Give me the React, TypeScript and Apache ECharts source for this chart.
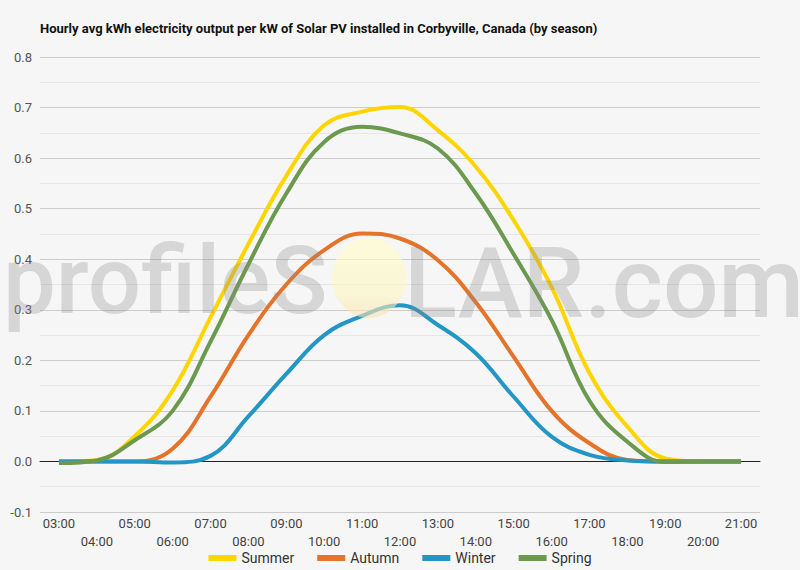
import React, { useEffect, useRef } from "react";
import * as echarts from "echarts";

const hours = ["03:00","04:00","05:00","06:00","07:00","08:00","09:00","10:00","11:00","12:00","13:00","14:00","15:00","16:00","17:00","18:00","19:00","20:00","21:00"];
const summer = [0, 0.003, 0.05, 0.14, 0.285, 0.43, 0.565, 0.665, 0.692, 0.701, 0.655, 0.583, 0.477, 0.345, 0.175, 0.069, 0.006, 0, 0];
const autumn = [0, 0, 0.0, 0.025, 0.128, 0.25, 0.35, 0.418, 0.451, 0.441, 0.398, 0.315, 0.207, 0.1, 0.036, 0.003, 0, 0, 0];
const winter = [0, 0, 0, -0.002, 0.011, 0.089, 0.173, 0.25, 0.288, 0.309, 0.27, 0.214, 0.128, 0.049, 0.013, 0.002, 0, 0, 0];
const spring = [-0.003, 0.002, 0.042, 0.1, 0.237, 0.39, 0.53, 0.632, 0.662, 0.649, 0.619, 0.53, 0.41, 0.28, 0.12, 0.039, -0.001, 0, 0];
const seriesNames = ["Summer", "Autumn", "Winter", "Spring"];
const seriesColors = ["#FFD500", "#E5732A", "#2496C6", "#6B9A4E"];
const title = "Hourly avg kWh electricity output per kW of Solar PV installed in Corbyville, Canada (by season)";

export default function App() {
  const ref = useRef<HTMLDivElement>(null);
  useEffect(() => {
    if (!ref.current) return;
    const chart = echarts.init(ref.current, null, { renderer: "svg" });
    const data = [summer, autumn, winter, spring];
    chart.setOption({
      animation: false,
      backgroundColor: "#f6f6f6",
      textStyle: { fontFamily: "Roboto" },
      title: {
        text: title,
        left: 35,
        top: 17,
        textStyle: { fontSize: 13, fontWeight: "bold", color: "#111", fontFamily: "Roboto" },
      },
      grid: { left: 40, right: 40, top: 57, bottom: 58, containLabel: false },
      legend: {
        top: 549,
        left: "center",
        icon: "rect",
        itemWidth: 28,
        itemHeight: 6,
        itemGap: 23,
        padding: [2, 5],
        textStyle: { fontSize: 14, color: "#333", fontFamily: "Roboto" },
        data: seriesNames,
      },
      xAxis: {
        type: "category",
        data: hours,
        boundaryGap: true,
        axisLine: { show: true, onZero: true, lineStyle: { color: "#222", width: 1 } },
        axisTick: { show: false },
        axisLabel: {
          interval: 0,
          fontSize: 13,
          color: "#444",
          lineHeight: 18,
          margin: 2,
          formatter: (v: string, i: number) => (i % 2 === 1 ? "\n" + v : v),
        },
        splitLine: { show: false },
      },
      yAxis: {
        type: "value",
        min: -0.1,
        max: 0.8,
        interval: 0.1,
        axisLine: { show: false },
        axisTick: { show: false },
        axisLabel: {
          fontSize: 13,
          color: "#555",
          margin: 8,
          formatter: (v: number) => v.toFixed(1),
        },
        splitLine: { show: true, lineStyle: { color: "#cccccc", width: 1 } },
        minorTick: { show: false, splitNumber: 2 },
        minorSplitLine: { show: true, lineStyle: { color: "#e6e6e6", width: 1 } },
      },
      series: data.map((d, i) => ({
        name: seriesNames[i],
        type: "line",
        data: d,
        smooth: 0.4,
        showSymbol: false,
        symbol: "none",
        lineStyle: { width: 4, color: seriesColors[i] },
        itemStyle: { color: seriesColors[i] },
        z: 2 + i,
      })),
      graphic: [
        {
          type: "ellipse",
          shape: { cx: 369, cy: 278, rx: 37, ry: 40 },
          style: {
            fill: new echarts.graphic.LinearGradient(0, 0, 0, 1, [
              { offset: 0, color: "rgba(255,255,200,0.6)" },
              { offset: 0.7, color: "rgba(253,245,190,0.6)" },
              { offset: 1, color: "rgba(250,225,175,0.6)" },
            ]),
          },
          z: 100,
        },
        {
          type: "text",
          left: 3,
          top: 234,
          style: {
            text: "profileS",
            font: "500 94px Roboto",
            fill: "rgba(140,140,140,0.3)",
          },
          z: 100,
        },
        {
          type: "text",
          left: 404,
          top: 234,
          style: {
            text: "LAR.com",
            font: "500 98px Roboto",
            fill: "rgba(140,140,140,0.3)",
          },
          z: 100,
        },
      ],
    });
    return () => chart.dispose();
  }, []);
  return (
    <div
      ref={ref}
      style={{ position: "fixed", left: 0, top: 0, width: 800, height: 570, overflow: "hidden" }}
    />
  );
}
